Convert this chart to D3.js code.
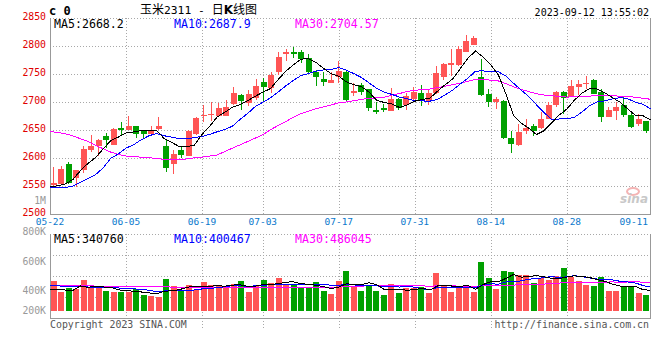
<!DOCTYPE html>
<html><head><meta charset="utf-8">
<script src="https://cdn.jsdelivr.net/npm/d3@7"></script>
<style>body{margin:0;background:#fff}svg{display:block}</style>
</head><body><svg id="chart" width="660" height="360"></svg>
<script>
const dates = ["05-22","05-23","05-24","05-25","05-26","05-29","05-30","05-31","06-01","06-02",
"06-05","06-06","06-07","06-08","06-09","06-12","06-13","06-14","06-15","06-16",
"06-19","06-20","06-21","06-26","06-27","06-28","06-29","06-30","07-03","07-04",
"07-05","07-06","07-07","07-10","07-11","07-12","07-13","07-14","07-17","07-18",
"07-19","07-20","07-21","07-24","07-25","07-26","07-27","07-28","07-31","08-01",
"08-02","08-03","08-04","08-07","08-08","08-09","08-10","08-11","08-14","08-15",
"08-16","08-17","08-18","08-21","08-22","08-23","08-24","08-25","08-28","08-29",
"08-30","08-31","09-01","09-04","09-05","09-06","09-07","09-08","09-11","09-12"];
const openP = [2552,2554,2590,2564,2579,2615,2622,2640,2624,2654,2650,2658,2649,2643,2652,2622,2590,2614,2605,2643,
2675,2677,2676,2676,2697,2713,2699,2707,2736,2725,2755,2786,2790,2790,2780,2755,2741,2735,2746,2755,
2716,2731,2724,2687,2690,2685,2706,2696,2706,2717,2702,2716,2746,2767,2767,2790,2803,2745,2715,2701,
2702,2637,2624,2648,2658,2654,2671,2695,2718,2710,2728,2732,2740,2719,2673,2684,2695,2677,2661,2667];
const highP = [2585,2586,2593,2580,2622,2641,2635,2645,2654,2665,2675,2658,2650,2658,2673,2633,2614,2621,2650,2674,
2695,2700,2698,2704,2728,2715,2722,2741,2744,2755,2789,2796,2799,2793,2787,2758,2755,2755,2773,2758,
2734,2734,2724,2701,2697,2725,2708,2716,2727,2731,2722,2764,2771,2795,2800,2820,2818,2778,2723,2710,
2704,2648,2661,2670,2661,2683,2701,2720,2720,2740,2740,2747,2741,2723,2691,2701,2710,2682,2679,2667];
const lowP = [2548,2552,2554,2549,2573,2612,2605,2618,2623,2639,2650,2636,2634,2642,2650,2576,2572,2600,2604,2642,
2665,2667,2674,2675,2695,2686,2693,2705,2701,2716,2749,2773,2779,2771,2753,2729,2729,2735,2735,2701,
2711,2713,2685,2680,2682,2684,2687,2687,2704,2693,2695,2715,2740,2747,2764,2789,2802,2711,2692,2688,
2634,2610,2622,2643,2639,2652,2670,2692,2679,2709,2713,2723,2714,2664,2673,2668,2673,2655,2657,2646];
const closeP = [2556,2581,2556,2579,2617,2622,2633,2633,2652,2650,2658,2643,2643,2650,2658,2583,2608,2606,2649,2672,
2678,2680,2690,2691,2717,2702,2715,2729,2727,2749,2781,2790,2787,2778,2755,2746,2736,2740,2756,2704,
2720,2719,2690,2683,2686,2706,2689,2711,2718,2702,2717,2752,2768,2770,2795,2810,2815,2713,2701,2706,
2636,2625,2647,2655,2649,2670,2695,2718,2707,2729,2733,2735,2715,2673,2686,2692,2677,2656,2670,2648];
const volume = [504900,323000,391000,362100,521900,391000,408000,334900,323000,323000,
311100,368900,266900,249900,226100,538900,419900,351900,436900,351900,
493000,436900,419900,379100,453900,504900,323000,419900,521900,470900,
555900,459000,447100,379100,391000,487900,340000,280500,510000,674900,
419900,340000,436900,340000,266900,453900,306000,379100,379100,396100,
306000,646000,419900,323000,379100,379100,323000,827900,555900,368900,
674900,657900,600100,600100,464100,561000,521900,589900,725900,566100,
504900,436900,419900,572900,334900,334900,408000,419900,300900,266900];
// moving-average values before enough history is on the chart
const ma5Head = [2549,2551,2554,2562];
const ma10Head = [2548,2548,2548,2550,2557,2564,2571,2583,2600];
const ma30Head = [2648,2646,2644,2640,2635,2630,2623,2617,2611,2607,2604,2603,2602,2601,2600,2598,2597,2597,2599,2601,2602,2604,2606,2612,2618,2624,2630,2636,2642];
const vma5Head = [369000,362000,352000,345000];
const vma10Head = [425000,421600,416500,411400,408000,402900,397800,394400,391000];
const vma30Head = [430100,428400,426700,425000,423300,421600,419900,418200,416500,414800,413100,411400,409700,408000,406300,404600,402900,401200,399500,399500,397800,397800,397800,396100,396100,396100,394400,394400,394400];
const priceTicks = [2850,2800,2750,2700,2650,2600,2550,2500];
const volTickLabels = ["800K","600K","400K","200K"];
const volTickValues = [800000,600000,400000,200000];
const dateTicks = ["05-22","06-05","06-19","07-03","07-17","07-31","08-14","08-28","09-11"];
const priceLegend = ["MA5:2668.2","MA10:2687.9","MA30:2704.57"];
const volLegend = ["MA5:340760","MA10:400467","MA30:486045"];
const maColors = ["#000000","#0000ff","#ff00ff"];

function movingAvg(arr, n, head){
  return arr.map((v,i)=> i < n-1 ? head[i] : d3.mean(arr.slice(i-n+1, i+1)));
}

const svg = d3.select("#chart");
const mono = "'DejaVu Sans Mono','Liberation Mono',monospace";
const L = 50, R = 650;
const pTop = 18.3, pBot = 214.3, vTop = 234.3, vBot = 318.3, vBase = 310.7;
const RED = "#ff5555", GREEN = "#00a000", GRID = "#a8a8a8", BORDER = "#999";

const x = d3.scaleBand().domain(dates).range([L, R]).paddingInner(0.2).paddingOuter(0.1);
const gx = d3.scaleLinear().domain([0, dates.length]).range([L, L + 7.6*dates.length]);
const y = d3.scaleLinear().domain([2500, 2850]).range([pBot, pTop]);
const yv = d3.scaleLinear().domain([0, 1300000]).range([vBase, vBase - 76.4]);
const volLabelY = d3.scaleLinear().domain([200000,400000,600000,800000]).range([314,294,265,234.5]);

// ---------- grids ----------
const grid = svg.append("g").attr("stroke", GRID).attr("stroke-dasharray","1,2").attr("shape-rendering","crispEdges");
priceTicks.filter(t=>t!==2500).forEach(t=>{
  grid.append("line").attr("x1",L).attr("x2",R).attr("y1",Math.round(y(t))+0.5).attr("y2",Math.round(y(t))+0.5);
});
for (let k=0;k<4;k++){
  const yy = Math.round(vTop + k*(vBot-vTop)/4)+0.5;
  grid.append("line").attr("x1",L).attr("x2",R).attr("y1",yy).attr("y2",yy);
}
dateTicks.forEach(d=>{
  const gxx = gx(dates.indexOf(d));
  if (gxx <= L+1 || gxx > R-10) return;
  const xx = Math.round(gxx)+0.5;
  grid.append("line").attr("x1",xx).attr("x2",xx).attr("y1",pTop).attr("y2",pBot);
  grid.append("line").attr("x1",xx).attr("x2",xx).attr("y1",vTop).attr("y2",vBot+10);
});

// ---------- borders ----------
const bd = svg.append("g").attr("stroke",BORDER).attr("shape-rendering","crispEdges").attr("fill","none");
bd.append("path").attr("d",`M${L+0.5},${pTop}V${pBot+0.5}H${R+0.5}V${pTop}`);
bd.append("path").attr("d",`M${L+0.5},${vTop}V${vBot+0.5}H${R+0.5}V${vTop}`);

// ---------- candles ----------
const cg = svg.append("g").attr("shape-rendering","crispEdges");
dates.forEach((d,i)=>{
  const up = closeP[i] >= openP[i];
  const col = up ? RED : GREEN;
  const cx = Math.floor(x(d) + x.bandwidth()/2) + 0.5;
  cg.append("line").attr("x1",cx).attr("x2",cx).attr("y1",y(highP[i])).attr("y2",y(lowP[i])).attr("stroke",col);
  const top = y(Math.max(openP[i],closeP[i])), bot = y(Math.min(openP[i],closeP[i]));
  cg.append("rect").attr("x",Math.round(x(d))).attr("y",top).attr("width",Math.round(x.bandwidth()))
    .attr("height",Math.max(1, bot-top)).attr("fill",col);
});

// ---------- volume bars ----------
const vg = svg.append("g").attr("shape-rendering","crispEdges");
dates.forEach((d,i)=>{
  const up = closeP[i] >= openP[i];
  vg.append("rect").attr("x",Math.round(x(d))).attr("y",yv(volume[i])).attr("width",Math.round(x.bandwidth()))
    .attr("height",yv(0)-yv(volume[i])).attr("fill", up ? RED : GREEN);
});

// ---------- MA lines ----------
const pMA = [movingAvg(closeP,5,ma5Head), movingAvg(closeP,10,ma10Head), movingAvg(closeP,30,ma30Head)];
const vMA = [movingAvg(volume,5,vma5Head), movingAvg(volume,10,vma10Head), movingAvg(volume,30,vma30Head)];
const pLine = d3.line().x((d,i)=>gx(i)).y(d=>y(d));
const vLine = d3.line().x((d,i)=>gx(i)).y(d=>yv(d));
[2,1,0].forEach(k=>{
  svg.append("path").attr("d",pLine(pMA[k])).attr("fill","none").attr("stroke",maColors[k]).attr("stroke-width",1).attr("shape-rendering","crispEdges");
  svg.append("path").attr("d",vLine(vMA[k])).attr("fill","none").attr("stroke",maColors[k]).attr("stroke-width",1).attr("shape-rendering","crispEdges");
});

// ---------- axis labels ----------
const tg = svg.append("g").attr("font-family",mono);
priceTicks.forEach(t=>{
  tg.append("text").attr("x",46).attr("y",y(t)+1.6).attr("text-anchor","end").attr("font-size","9.8px").attr("fill","#e00000").text(t);
});
tg.append("text").attr("x",46).attr("y",204.3).attr("text-anchor","end").attr("font-size","9.8px").attr("fill","#999").text("1M");
volTickLabels.forEach((t,k)=>{
  tg.append("text").attr("x",46).attr("y",volLabelY(volTickValues[k])).attr("text-anchor","end").attr("font-size","9.8px").attr("fill","#999").text(t);
});
dateTicks.forEach(d=>{
  const w = 5.7*d.length;
  let cx = gx(dates.indexOf(d));
  cx = Math.min(cx, R - 2 - w/2);
  tg.append("text").attr("x",cx).attr("y",224.5).attr("text-anchor","middle").attr("font-size","9.5px").attr("fill","#0a78cc").text(d);
});

// legends
const legX = [54, 174, 295];
priceLegend.forEach((t,k)=>{
  tg.append("text").attr("x",legX[k]).attr("y",28.4).attr("font-size","11.6px").attr("fill",maColors[k]).text(t);
});
volLegend.forEach((t,k)=>{
  tg.append("text").attr("x",legX[k]).attr("y",242.5).attr("font-size","11.6px").attr("fill",maColors[k]).text(t);
});

// header
tg.append("text").attr("x",49).attr("y",14.6).attr("font-size","12px").attr("font-weight","bold").attr("fill","#000").text("c 0");
const title = svg.append("text").attr("x",140).attr("y",14).attr("fill","#000").attr("font-size","12px");
title.append("tspan").attr("font-family","'Noto Sans CJK SC',sans-serif").text("玉米");
title.append("tspan").attr("font-family",mono).attr("font-size","11.3px").text("2311 - ");
title.append("tspan").attr("font-family","'Noto Sans CJK SC',sans-serif").text("日");
title.append("tspan").attr("font-family","'DejaVu Sans',sans-serif").attr("font-weight","bold").text("K");
title.append("tspan").attr("font-family","'Noto Sans CJK SC',sans-serif").text("线图");
tg.append("text").attr("x",649).attr("y",15.5).attr("text-anchor","end").attr("font-size","10px").attr("fill","#000").text("2023-09-12 13:55:02");

// footer
tg.append("text").attr("x",50).attr("y",327.5).attr("font-size","9.9px").attr("fill","#555").text("Copyright 2023 SINA.COM");
tg.append("text").attr("x",649).attr("y",327.5).attr("text-anchor","end").attr("font-size","9.9px").attr("fill","#555").text("http://finance.sina.com.cn");

// watermark
svg.append("ellipse").attr("cx",633).attr("cy",191.5).attr("rx",6).attr("ry",3.5).attr("fill","none").attr("stroke","#f4b4b4").attr("stroke-width",2);
svg.append("text").attr("x",648).attr("y",203).attr("text-anchor","end").attr("font-family","'DejaVu Sans',sans-serif")
  .attr("font-size","12px").attr("font-weight","bold").attr("font-style","italic").attr("fill","#c8c8c8").text("sina");
</script></body></html>
